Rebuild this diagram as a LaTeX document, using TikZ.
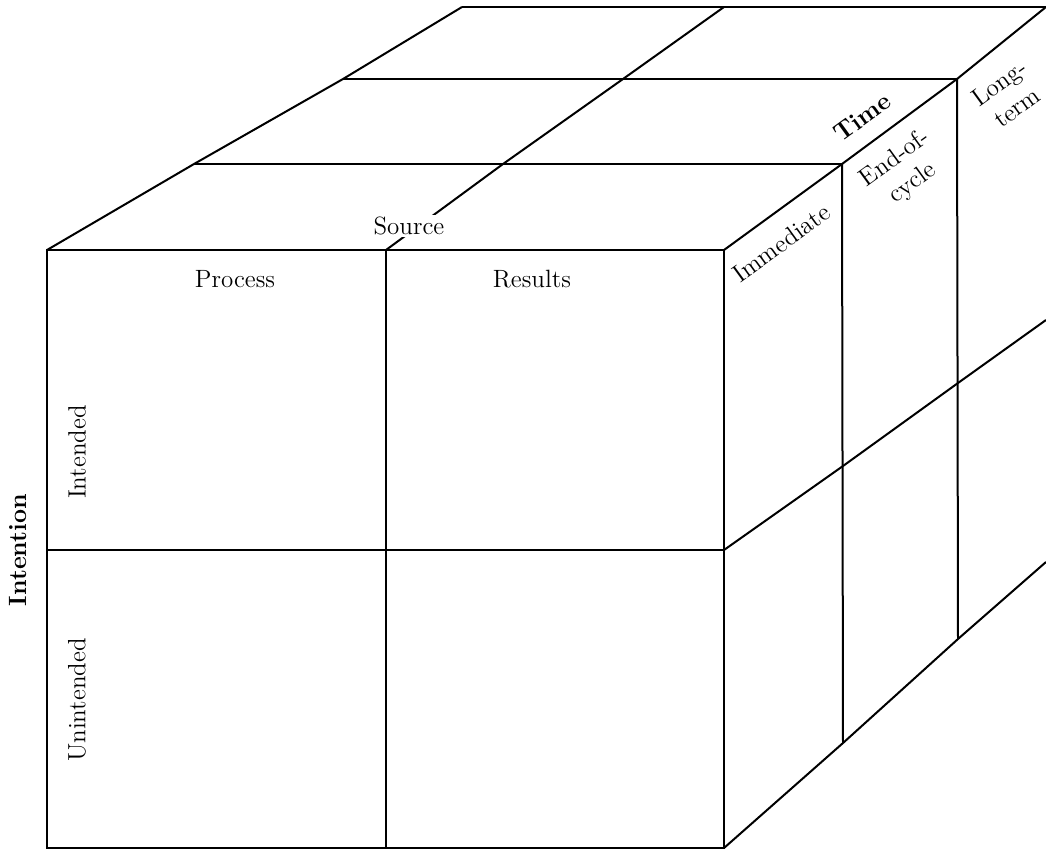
\documentclass[tikz,border=0pt]{standalone}
\begin{document}
\begin{tikzpicture}[x=0.5pt,y=-0.5pt,line width=1pt,
    every node/.style={font=\fontsize{12.5}{15}\selectfont,inner sep=1pt},
    axislabel/.style={font=\fontsize{12.5}{15}\selectfont\bfseries},
    sidelabel/.style={rotate=36,align=center,inner sep=0pt}]

\useasboundingbox (0,0) rectangle (1046,852);

% front face
\coordinate (f1) at (47,250);
\coordinate (f2) at (386,250);
\coordinate (f3) at (724,250);
\coordinate (f4) at (47,550);
\coordinate (f5) at (386,550);
\coordinate (f6) at (724,550);
\coordinate (f7) at (47,848);
\coordinate (f8) at (386,848);
\coordinate (f9) at (724,848);

% top face
\coordinate (t1) at (194,164);
\coordinate (t2) at (343,79);
\coordinate (t3) at (462,7);
\coordinate (m1) at (503,164);
\coordinate (m2) at (623,79);
\coordinate (m3) at (724,7);

% right face
\coordinate (r1) at (842,164);
\coordinate (r2) at (957,79);
\coordinate (r3) at (1046,7);
\coordinate (s1) at (843,466);
\coordinate (s2) at (958,383);
\coordinate (s3) at (1046,320);
\coordinate (b1) at (843,743);
\coordinate (b2) at (958,639);
\coordinate (b3) at (1046,562);

\draw (f1) rectangle (f9);
\draw (f2) -- (f8);
\draw (f4) -- (f6);

\draw (f1) -- (t1) -- (t2) -- (t3);
\draw (t1) -- (r1);
\draw (t2) -- (r2);
\draw (t3) -- (r3);
\draw (f2) -- (m1) -- (m2) -- (m3);

\draw (f3) -- (r1) -- (r2) -- (r3);
\draw (f6) -- (s1) -- (s2) -- (s3);
\draw (f9) -- (b1) -- (b2) -- (b3);
\draw (r1) -- (b1);
\draw (r2) -- (b2);

\node[fill=white] (source) at (409,226) {Source};
\node (process) at (235,279) {Process};
\node (results) at (532,279) {Results};
\node[rotate=90] (intended) at (77,452) {Intended};
\node[rotate=90] (unintended) at (77,700) {Unintended};
\node[axislabel,rotate=90] (intention) at (18,550) {Intention};
\node[sidelabel] (immediate) at (781,243) {Immediate};
\node[axislabel,sidelabel] (time) at (862,117) {Time};
\node[sidelabel] (endcycle) at (904,171) {End-of-\\cycle};
\node[sidelabel] (longterm) at (1008,95) {Long-\\term};
\end{tikzpicture}
\end{document}
